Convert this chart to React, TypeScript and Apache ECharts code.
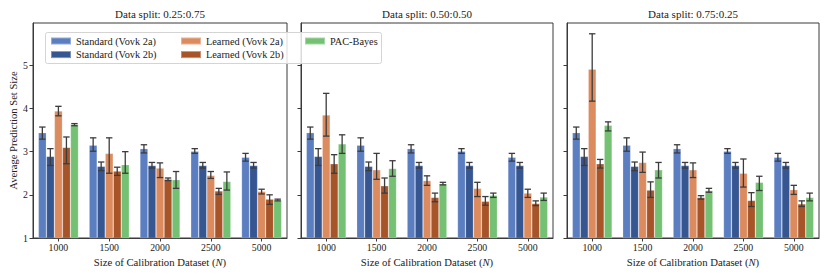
import React, { useEffect, useRef } from 'react';
import * as echarts from 'echarts';

const categories = ['1000', '1500', '2000', '2500', '5000'];
const seriesNames = ['Standard (Vovk 2a)', 'Standard (Vovk 2b)', 'Learned (Vovk 2a)', 'Learned (Vovk 2b)', 'PAC-Bayes'];
const splitTitles = ['Data split: 0.25:0.75', 'Data split: 0.50:0.50', 'Data split: 0.75:0.25'];
const yTicks = [1, 2, 3, 4, 5];

// Standard conformal (same in every split)
const std2aMean = [3.44, 3.15, 3.07, 3.01, 2.87];
const std2aLo = [3.29, 3.01, 2.97, 2.96, 2.78];
const std2aHi = [3.57, 3.32, 3.16, 3.07, 2.96];
const std2bMean = [2.89, 2.66, 2.68, 2.68, 2.68];
const std2bLo = [2.68, 2.56, 2.62, 2.62, 2.62];
const std2bHi = [3.07, 2.76, 2.75, 2.75, 2.75];

// Split 0.25:0.75
const l2aMeanA = [3.94, 2.96, 2.62, 2.45, 2.08];
const l2aLoA = [3.83, 2.50, 2.40, 2.38, 2.02];
const l2aHiA = [4.05, 3.32, 2.74, 2.54, 2.13];
const l2bMeanA = [3.10, 2.55, 2.36, 2.09, 1.90];
const l2bLoA = [2.72, 2.45, 2.33, 2.01, 1.78];
const l2bHiA = [3.34, 2.64, 2.39, 2.15, 2.00];
const pacMeanA = [3.63, 2.70, 2.35, 2.31, 1.88];
const pacLoA = [3.60, 2.50, 2.15, 2.11, 1.86];
const pacHiA = [3.65, 3.00, 2.54, 2.53, 1.90];

// Split 0.50:0.50
const l2aMeanB = [3.85, 2.58, 2.33, 2.15, 2.04];
const l2aLoB = [3.36, 2.36, 2.22, 1.96, 1.94];
const l2aHiB = [4.35, 2.96, 2.44, 2.29, 2.13];
const l2bMeanB = [2.72, 2.21, 1.94, 1.85, 1.80];
const l2bLoB = [2.50, 2.04, 1.84, 1.76, 1.75];
const l2bHiB = [2.93, 2.39, 2.04, 1.96, 1.86];
const pacMeanB = [3.18, 2.61, 2.26, 1.99, 1.95];
const pacLoB = [2.96, 2.43, 2.23, 1.94, 1.87];
const pacHiB = [3.39, 2.79, 2.29, 2.04, 2.04];

// Split 0.75:0.25
const l2aMeanC = [4.91, 2.75, 2.58, 2.50, 2.12];
const l2aLoC = [4.17, 2.52, 2.40, 2.18, 2.01];
const l2aHiC = [5.73, 2.99, 2.74, 2.83, 2.22];
const l2bMeanC = [2.72, 2.11, 1.94, 1.87, 1.79];
const l2bLoC = [2.62, 1.94, 1.90, 1.73, 1.73];
const l2bHiC = [2.82, 2.30, 1.98, 2.05, 1.86];
const pacMeanC = [3.61, 2.58, 2.10, 2.29, 1.94];
const pacLoC = [3.48, 2.39, 2.06, 2.10, 1.86];
const pacHiC = [3.69, 2.75, 2.15, 2.43, 2.04];

const panelMeans = [
  [std2aMean, std2bMean, l2aMeanA, l2bMeanA, pacMeanA],
  [std2aMean, std2bMean, l2aMeanB, l2bMeanB, pacMeanB],
  [std2aMean, std2bMean, l2aMeanC, l2bMeanC, pacMeanC],
];
const panelLo = [
  [std2aLo, std2bLo, l2aLoA, l2bLoA, pacLoA],
  [std2aLo, std2bLo, l2aLoB, l2bLoB, pacLoB],
  [std2aLo, std2bLo, l2aLoC, l2bLoC, pacLoC],
];
const panelHi = [
  [std2aHi, std2bHi, l2aHiA, l2bHiA, pacHiA],
  [std2aHi, std2bHi, l2aHiB, l2bHiB, pacHiB],
  [std2aHi, std2bHi, l2aHiC, l2bHiC, pacHiC],
];

const colors = ['#5b7ec1', '#365691', '#dc8b5f', '#a65428', '#74c173'];
const FONT = '"Liberation Serif", "DejaVu Serif", serif';
const TXT = '#222';
const SPINE = '#3a3a3a';
const GAP = 0.21;

const gridBoxes = [
  { left: 33, top: 23, width: 254, height: 215 },
  { left: 301, top: 23, width: 252, height: 215 },
  { left: 567, top: 23, width: 252, height: 215 },
];

function buildOption() {
  const series: any[] = [];
  for (let p = 0; p < 3; p++) {
    for (let s = 0; s < 5; s++) {
      series.push({
        type: 'bar',
        name: seriesNames[s],
        xAxisIndex: p,
        yAxisIndex: p,
        data: panelMeans[p][s],
        barGap: '0%',
        barCategoryGap: GAP * 100 + '%',
        itemStyle: { color: colors[s], borderColor: 'rgba(255,255,255,0.35)', borderWidth: 0.6 },
        z: 2,
      });
    }
    const errData: number[][] = [];
    for (let s = 0; s < 5; s++) {
      for (let c = 0; c < categories.length; c++) {
        errData.push([c, s, panelLo[p][s][c], panelHi[p][s][c]]);
      }
    }
    series.push({
      type: 'custom',
      name: 'err' + p,
      xAxisIndex: p,
      yAxisIndex: p,
      data: errData,
      encode: { x: 0, y: [2, 3] },
      clip: false,
      z: 5,
      silent: true,
      renderItem: (params: any, api: any) => {
        const c = api.value(0);
        const k = api.value(1);
        const lo = api.coord([c, api.value(2)]);
        const hi = api.coord([c, api.value(3)]);
        const bandW = api.size([1, 0])[0];
        const groupW = bandW * (1 - GAP);
        const bw = groupW / 5;
        const x = lo[0] - groupW / 2 + (k + 0.5) * bw;
        const cap = 3.2;
        const style = { stroke: '#3c3c3c', lineWidth: 1.3, fill: 'none' };
        return {
          type: 'group',
          children: [
            { type: 'line', shape: { x1: x, y1: lo[1], x2: x, y2: hi[1] }, style },
            { type: 'line', shape: { x1: x - cap, y1: lo[1], x2: x + cap, y2: lo[1] }, style },
            { type: 'line', shape: { x1: x - cap, y1: hi[1], x2: x + cap, y2: hi[1] }, style },
          ],
        };
      },
    });
  }

  const grids = gridBoxes.map((g) => ({
    ...g,
    show: true,
    borderColor: SPINE,
    borderWidth: 1,
    backgroundColor: 'transparent',
    containLabel: false,
  }));

  const xAxes = gridBoxes.map((_, i) => ({
    type: 'category',
    gridIndex: i,
    data: categories,
    axisLine: { show: true, lineStyle: { color: SPINE, width: 1 } },
    axisTick: { show: true, alignWithLabel: true, length: 3.5, lineStyle: { color: SPINE } },
    axisLabel: { fontSize: 9.8, color: TXT, fontFamily: FONT, margin: 4 },
    name: '{a|Size of Calibration Dataset (}{i|N}{a|)}',
    nameLocation: 'middle',
    nameGap: 17,
    nameTextStyle: {
      rich: {
        a: { fontSize: 10.7, fontFamily: FONT, color: TXT },
        i: { fontSize: 10.7, fontFamily: FONT, color: TXT, fontStyle: 'italic' },
      },
    },
  }));

  const yAxes = gridBoxes.map((_, i) => ({
    type: 'value',
    gridIndex: i,
    min: 1,
    max: 5.98,
    interval: 1,
    splitLine: { show: false },
    axisLine: { show: true, lineStyle: { color: SPINE, width: 1 } },
    axisTick: { show: true, length: 3.5, lineStyle: { color: SPINE }, customValues: yTicks },
    axisLabel: {
      show: i === 0,
      fontSize: 9.8,
      color: TXT,
      fontFamily: FONT,
      margin: 5,
      customValues: yTicks,
    },
    name: i === 0 ? 'Average Prediction Set Size' : '',
    nameLocation: 'middle',
    nameGap: 14,
    nameTextStyle: { fontSize: 10.6, fontFamily: FONT, color: TXT },
  }));

  const legendCommon = {
    orient: 'vertical',
    itemWidth: 20,
    itemHeight: 7,
    itemGap: 0.6,
    icon: 'rect',
    top: 34.5,
    padding: 0,
    selectedMode: false,
    textStyle: { fontSize: 10.3, fontFamily: FONT, color: TXT, lineHeight: 13 },
    z: 20,
  };

  const legends = [
    { ...legendCommon, left: 50, data: [seriesNames[0], seriesNames[1]] },
    { ...legendCommon, left: 180, data: [seriesNames[2], seriesNames[3]] },
    { ...legendCommon, left: 304, data: [seriesNames[4]] },
  ];

  const graphics: any[] = [
    {
      type: 'rect',
      shape: { x: 45.5, y: 32.5, width: 336, height: 31, r: 2 },
      style: { fill: 'rgba(255,255,255,0.82)', stroke: '#d4d4d4', lineWidth: 1 },
      z: 15,
    },
  ];
  gridBoxes.forEach((g, i) => {
    graphics.push({
      type: 'text',
      x: g.left + g.width / 2,
      y: 14,
      style: {
        text: splitTitles[i],
        fontSize: 11,
        fontFamily: FONT,
        fill: TXT,
        textAlign: 'center',
        textVerticalAlign: 'middle',
      },
      z: 20,
    });
  });

  return {
    animation: false,
    backgroundColor: '#ffffff',
    grid: grids,
    xAxis: xAxes,
    yAxis: yAxes,
    legend: legends,
    graphic: graphics,
    series,
  };
}

export default function App() {
  const ref = useRef<HTMLDivElement>(null);
  useEffect(() => {
    const chart = echarts.init(ref.current!, null, { renderer: 'svg' });
    chart.setOption(buildOption() as any);
    return () => chart.dispose();
  }, []);
  return (
    <div
      ref={ref}
      style={{ position: 'fixed', left: 0, top: 0, width: 830, height: 277 }}
    />
  );
}
